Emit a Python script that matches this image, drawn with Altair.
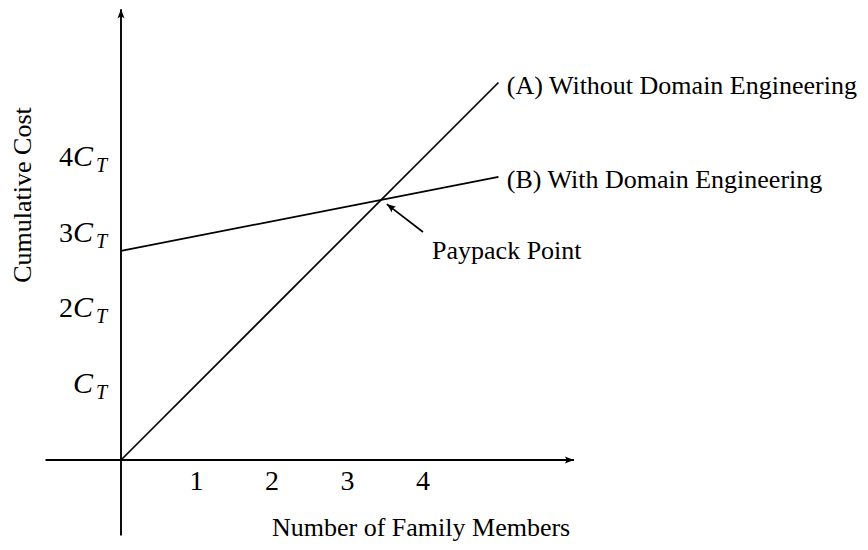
import math
import altair as alt
import pandas as pd

# ---------------- data ----------------
members = [0, 5]
cost_a = [0.0, 5.0]          # (A) Without Domain Engineering
cost_b = [2.77, 3.75]        # (B) With Domain Engineering
x_ticks = [1, 2, 3, 4]
x_tick_labels = ["1", "2", "3", "4"]
y_ticks = [1, 2, 3, 4]
y_tick_coef = ["", "2", "3", "4"]
label_a = "(A) Without Domain Engineering"
label_b = "(B) With Domain Engineering"
payback_label = "Paypack Point"
x_title = "Number of Family Members"
y_title = "Cumulative Cost"
axis_x_range = [-1.0, 6.0]
axis_y_range = [-1.0, 5.97]
arrow_tail = [4.0, 3.02]
arrow_tip = [3.52, 3.39]
label_pos_a = [5.11, 4.85]
label_pos_b = [5.11, 3.60]
label_pos_pay = [4.12, 2.66]
x_title_pos = [2.0, -1.01]
y_title_pos = [-1.30, 3.51]

# ---------------- layout ----------------
W, H = 852, 534
UNIT = 75.5
OX, OY = 113, 452  # origin inside the canvas
xs = alt.Scale(domain=[-OX / UNIT, (W - OX) / UNIT], nice=False, zero=False)
ys = alt.Scale(domain=[-(H - OY) / UNIT, OY / UNIT], nice=False, zero=False)
SERIF = "Liberation Serif"


def X(f="x"):
    return alt.X(f"{f}:Q", scale=xs, axis=None)


def Y(f="y"):
    return alt.Y(f"{f}:Q", scale=ys, axis=None)


# axes
axes_df = pd.DataFrame({
    "x": [axis_x_range[0], 0.0],
    "x2": [axis_x_range[1], 0.0],
    "y": [0.0, axis_y_range[0]],
    "y2": [0.0, axis_y_range[1]],
})
axes = alt.Chart(axes_df).mark_rule(color="black", strokeWidth=1.9).encode(
    x=X(), x2="x2:Q", y=Y(), y2="y2:Q"
)

# arrowheads
dxp = (arrow_tip[0] - arrow_tail[0]) * UNIT
dyp = -(arrow_tip[1] - arrow_tail[1]) * UNIT
pay_angle = math.degrees(math.atan2(dyp, dxp)) % 360
heads_df = pd.DataFrame({
    "x": [axis_x_range[1], 0.0, arrow_tip[0]],
    "y": [0.0, axis_y_range[1], arrow_tip[1]],
    "angle": [0.0, 270.0, pay_angle],
})
HEAD = "M0,0 L-2.2,-0.85 Q-1.5,0 -2.2,0.85 Z"
heads = alt.Chart(heads_df).mark_point(
    shape=HEAD, filled=True, color="black", size=70, opacity=1, strokeWidth=0
).encode(
    x=X(), y=Y(), angle=alt.Angle("angle:Q", scale=None)
)

# paypack arrow shaft
shaft_df = pd.DataFrame({"x": [arrow_tail[0]], "y": [arrow_tail[1]],
                         "x2": [arrow_tip[0]], "y2": [arrow_tip[1]]})
shaft = alt.Chart(shaft_df).mark_rule(color="black", strokeWidth=1.7).encode(
    x=X(), y=Y(), x2="x2:Q", y2="y2:Q"
)

# lines
lines_df = pd.DataFrame({
    "x": members + members,
    "y": cost_a + cost_b,
    "series": ["A"] * len(members) + ["B"] * len(members),
})
lines = alt.Chart(lines_df).mark_line(color="black", strokeWidth=1.7).encode(
    x=X(), y=Y(), detail="series:N"
)

# x tick labels
xt_df = pd.DataFrame({"x": x_ticks, "y": [0] * len(x_ticks), "t": x_tick_labels})
xticks = alt.Chart(xt_df).mark_text(
    font=SERIF, fontSize=28, dy=30, baseline="alphabetic", align="center", color="black"
).encode(x=X(), y=Y(), text="t:N")

# y tick labels (coef + italic C + subscript T)
yt_df = pd.DataFrame({"x": [0] * len(y_ticks), "y": y_ticks, "coef": y_tick_coef,
                      "c": ["C"] * len(y_ticks), "s": ["T"] * len(y_ticks)})
ycoef = alt.Chart(yt_df).mark_text(
    font=SERIF, fontSize=28, dx=-62, dy=8, baseline="alphabetic", align="left", color="black"
).encode(x=X(), y=Y(), text="coef:N")
yc = alt.Chart(yt_df).mark_text(
    font=SERIF, fontSize=30, fontStyle="italic", dx=-48, dy=8, baseline="alphabetic",
    align="left", color="black"
).encode(x=X(), y=Y(), text="c:N")
ysub = alt.Chart(yt_df).mark_text(
    font=SERIF, fontSize=20, fontStyle="italic", dx=-25, dy=14, baseline="alphabetic",
    align="left", color="black"
).encode(x=X(), y=Y(), text="s:N")

# annotations
ann_df = pd.DataFrame({
    "x": [label_pos_a[0], label_pos_b[0], label_pos_pay[0], x_title_pos[0]],
    "y": [label_pos_a[1], label_pos_b[1], label_pos_pay[1], x_title_pos[1]],
    "t": [label_a, label_b, payback_label, x_title],
})
ann = alt.Chart(ann_df).mark_text(
    font=SERIF, fontSize=26, baseline="alphabetic", align="left", color="black"
).encode(x=X(), y=Y(), text="t:N")

ytitle_df = pd.DataFrame({"x": [y_title_pos[0]], "y": [y_title_pos[1]], "t": [y_title]})
ytitle = alt.Chart(ytitle_df).mark_text(
    font=SERIF, fontSize=26, baseline="middle", align="center", angle=270, color="black"
).encode(x=X(), y=Y(), text="t:N")

chart = alt.layer(
    axes, lines, shaft, heads, xticks, ycoef, yc, ysub, ann, ytitle
).properties(
    width=W, height=H, padding=0,
    autosize=alt.AutoSizeParams(type="none"),
).configure(
    background="white", view=alt.ViewConfig(stroke=None)
)

chart.save("out.html", embed_options={"renderer": "svg", "actions": False})
